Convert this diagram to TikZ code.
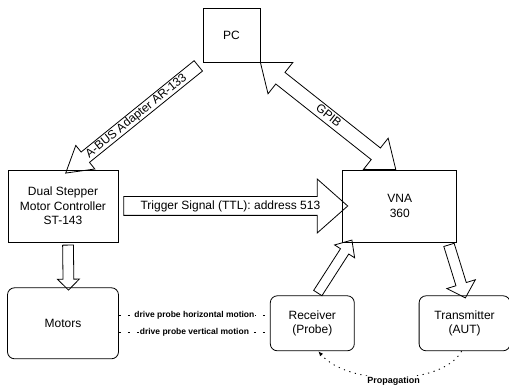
\documentclass[tikz,border=0pt,12pt]{standalone}
\usepackage{fontspec}
\setmainfont{Liberation Sans}
\usetikzlibrary{arrows.meta,positioning,calc,shapes.arrows}

% wide hollow arrow between two points, its length taken from the points
\newcommand{\blockarrow}[4][]{%
  \path let \p1=($(#3)-(#2)$), \n1={veclen(\x1,\y1)} in
    (#2) -- node[barrow, minimum height=\n1, #1] {#4} (#3);}

\begin{document}
\begin{tikzpicture}[
  x=1pt, y=1pt,
  node distance=45pt and 224pt,
  box/.style={rectangle, draw, line width=0.8pt, align=center, inner sep=2pt},
  rbox/.style={box, rounded corners=7pt},
  barrow/.style={single arrow, draw, line width=0.8pt, sloped, allow upside down,
    inner xsep=0pt, inner ysep=0pt, single arrow head indent=0pt},
  dbarrow/.style={double arrow, double arrow head indent=0pt},
  drivel/.style={line width=0.7pt, dash pattern=on 2pt off 7pt},
  lbl/.style={font=\bfseries\fontsize{8.5}{10}\selectfont, fill=white, inner sep=1pt},
  prop/.style={line width=0.9pt, dash pattern=on 1.2pt off 4.5pt, -{Latex[length=5pt,width=4pt]}}
]
  \useasboundingbox (0,0) rectangle (509,390);

  \node[box, minimum width=57pt, minimum height=54pt] (pc) at (231.5,355) {PC};
  \node[box, minimum width=110pt, minimum height=72pt] (dual) at (63,184)
    {Dual Stepper\\Motor Controller\\ST-143};
  \node[box, right=of dual, minimum width=114pt, minimum height=72pt] (vna) {VNA\\360};
  \node[rbox, below=of dual, minimum width=111pt, minimum height=71pt] (motors) {Motors};
  \node[rbox, right=151pt of motors, minimum width=84pt, minimum height=55pt] (receiver)
    {Receiver\\(Probe)};
  \node[rbox, right=64pt of receiver, minimum width=91pt, minimum height=55pt] (transmitter)
    {Transmitter\\(AUT)};

  \coordinate (abus) at ([xshift=7pt]dual.north);
  \coordinate (gpib) at ([xshift=-4pt]vna.north);
  \coordinate (drv) at ([xshift=5pt]dual.south);
  \coordinate (mot) at ([xshift=5.5pt]motors.north);
  \coordinate (rcv) at ([xshift=4pt]receiver.north);
  \coordinate (vnain) at ([xshift=8pt]vna.south west);
  \coordinate (vnaout) at ([xshift=-9pt]vna.south east);

  \blockarrow[shape border rotate=180, text height=9.5pt, text depth=3pt,
    single arrow head extend=8.5pt, single arrow tip angle=62]{abus}{pc.south west}{A-BUS Adapter AR-133}
  \blockarrow[dbarrow, text height=10pt, text depth=4pt,
    double arrow head extend=12.5pt, double arrow tip angle=76]{pc.south east}{gpib}{GPIB}
  \blockarrow[text height=12.5pt, text depth=5.5pt,
    single arrow head extend=17.5pt, single arrow tip angle=83]{dual.east}{vna.west}{Trigger Signal (TTL): address 513}
  \blockarrow[text height=10pt, text depth=0pt,
    single arrow head extend=5.5pt, single arrow tip angle=90]{drv}{mot}{}
  \blockarrow[text height=9pt, text depth=0pt,
    single arrow head extend=7pt, single arrow tip angle=83]{rcv}{vnain}{}
  \blockarrow[text height=10pt, text depth=0pt,
    single arrow head extend=9.5pt, single arrow tip angle=92]{vnaout}{transmitter.north}{}

  \draw[drivel] ([yshift=7.5pt]motors.east) -- node[lbl] {drive probe horizontal motion}
    ([yshift=7.5pt]receiver.west);
  \draw[drivel] ([yshift=-9pt]motors.east) -- node[lbl] {drive probe vertical motion}
    ([yshift=-9pt]receiver.west);

  \draw[prop] ([xshift=-3pt]transmitter.south) .. controls +(-20,-35) and +(30,-35) ..
    node[pos=0.5, lbl, font=\bfseries\fontsize{9}{10}\selectfont, anchor=north, yshift=2pt] {Propagation}
    ([xshift=6pt]receiver.south);
\end{tikzpicture}
\end{document}
